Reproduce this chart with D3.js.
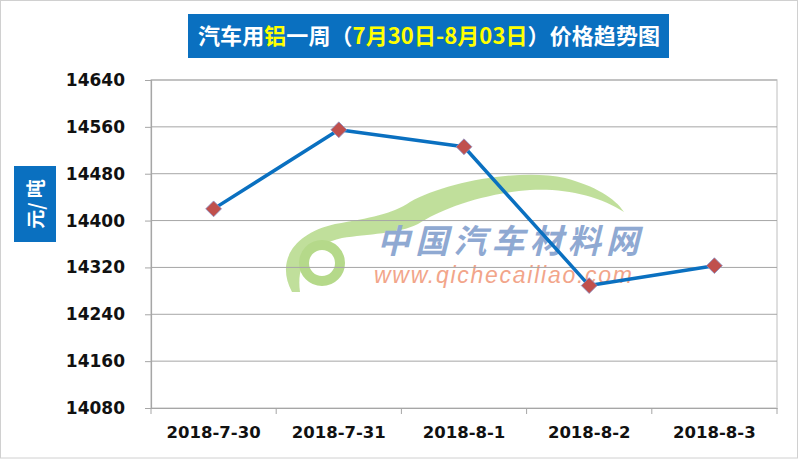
<!DOCTYPE html>
<html>
<head>
<meta charset="utf-8">
<script src="https://cdn.jsdelivr.net/npm/d3@7/dist/d3.min.js"></script>
<style>
  body { margin: 0; background: #fff; }
  svg { display: block; }
</style>
</head>
<body>
<div id="chart"></div>
<script>
const categories = ["2018-7-30", "2018-7-31", "2018-8-1", "2018-8-2", "2018-8-3"];
const prices = [14420, 14555, 14526, 14289, 14323];
const yTicks = [14080, 14160, 14240, 14320, 14400, 14480, 14560, 14640];

const width = 800, height = 460;
const margin = {left: 151, right: 23, top: 80, bottom: 52};

let svg = d3.select("#chart").append("svg")
    .attr("width", width)
    .attr("height", height);

// outer frame
svg.append("rect")
    .attr("x", 0.5).attr("y", 0.5)
    .attr("width", width - 3).attr("height", height - 2.5)
    .attr("fill", "#fff")
    .attr("stroke", "#d0d0d0");

let x = d3.scaleBand()
    .domain(categories)
    .range([margin.left, width - margin.right]);

let y = d3.scaleLinear()
    .domain([14080, 14640])
    .range([height - margin.bottom, margin.top]);

// watermark
let wm = svg.append("g").attr("class", "watermark");
wm.append("path")
    .attr("d", "M292,292 C276,262 292,234 335,224 C370,218 392,214 410,202 C445,182 520,168 565,178 C595,186 615,198 624,212 C600,196 565,188 530,190 C480,194 440,210 418,224 C398,234 368,234 342,238 C310,246 296,262 300,292 Z")
    .attr("fill", "#b5d98a")
    .attr("opacity", 0.85);
wm.append("circle")
    .attr("cx", 322).attr("cy", 263)
    .attr("r", 18)
    .attr("fill", "none")
    .attr("stroke", "#b5d98a")
    .attr("stroke-width", 10);
wm.append("text")
    .attr("x", 508).attr("y", 253)
    .attr("text-anchor", "middle")
    .attr("font-family", "Noto Sans CJK SC")
    .attr("font-weight", "bold")
    .attr("font-style", "italic")
    .attr("font-size", 33)
    .attr("textLength", 262)
    .attr("fill", "#8fa9d2")
    .text("中国汽车材料网");
wm.append("text")
    .attr("x", 503).attr("y", 283)
    .attr("text-anchor", "middle")
    .attr("font-family", "Liberation Sans, Arial, sans-serif")
    .attr("font-style", "italic")
    .attr("font-size", 23)
    .attr("textLength", 258)
    .attr("fill", "#f2a58a")
    .text("www.qichecailiao.com");

// plot border (top/right)
svg.append("rect")
    .attr("x", margin.left).attr("y", margin.top)
    .attr("width", width - margin.right - margin.left)
    .attr("height", height - margin.bottom - margin.top)
    .attr("fill", "none")
    .attr("stroke", "#d4d4d4")
    .attr("stroke-width", 1.5);

// gridlines
svg.append("g")
    .selectAll("line")
    .data(yTicks.slice(1))
    .enter().append("line")
    .attr("x1", margin.left).attr("x2", width - margin.right)
    .attr("y1", d => y(d)).attr("y2", d => y(d))
    .attr("stroke", "#a6a6a6")
    .attr("stroke-width", 1);

// y axis
let yAxis = svg.append("g")
    .attr("transform", "translate(" + margin.left + ",0)")
    .call(d3.axisLeft(y).tickValues(yTicks).tickSize(6).tickPadding(20).tickFormat(d3.format("d")));
yAxis.select(".domain").attr("stroke", "#a6a6a6").attr("stroke-width", 1.2);
yAxis.selectAll(".tick line").attr("stroke", "#a6a6a6");
yAxis.selectAll("text")
    .attr("font-family", "DejaVu Sans, sans-serif")
    .attr("font-weight", "bold")
    .attr("font-size", 17)
    .attr("fill", "#111");

// x axis
let xAxis = svg.append("g")
    .attr("transform", "translate(0," + (height - margin.bottom) + ")")
    .call(d3.axisBottom(x).tickSize(0).tickPadding(18));
xAxis.select(".domain").attr("stroke", "#a6a6a6").attr("stroke-width", 1.2);
xAxis.selectAll("text")
    .attr("font-family", "DejaVu Sans, sans-serif")
    .attr("font-weight", "bold")
    .attr("font-size", 16.5)
    .attr("fill", "#111");
// boundary ticks between categories
xAxis.selectAll(".sep")
    .data(categories.concat(["end"]))
    .enter().append("line")
    .attr("class", "sep")
    .attr("x1", (d, i) => margin.left + i * x.step())
    .attr("x2", (d, i) => margin.left + i * x.step())
    .attr("y1", 0).attr("y2", 6)
    .attr("stroke", "#a6a6a6");

// line
let line = d3.line()
    .x((d, i) => x(categories[i]) + x.bandwidth() / 2)
    .y(d => y(d));

svg.append("path")
    .datum(prices)
    .attr("d", line)
    .attr("fill", "none")
    .attr("stroke", "#0a70c0")
    .attr("stroke-width", 3.5)
    .attr("stroke-linejoin", "round");

// diamond markers
svg.append("g")
    .selectAll("path")
    .data(prices)
    .enter().append("path")
    .attr("transform", (d, i) => "translate(" + (x(categories[i]) + x.bandwidth() / 2) + "," + y(d) + ")")
    .attr("d", d3.symbol().type(d3.symbolDiamond2).size(160))
    .attr("fill", "#c0504d")
    .attr("stroke", "#8a93c8")
    .attr("stroke-width", 0.8);

// title box
let title = svg.append("g");
title.append("rect")
    .attr("x", 188).attr("y", 14)
    .attr("width", 481).attr("height", 44)
    .attr("fill", "#0a70c0");
let tt = title.append("text")
    .attr("x", 429).attr("y", 44)
    .attr("text-anchor", "middle")
    .attr("font-family", "Noto Sans CJK SC, sans-serif")
    .attr("font-weight", "bold")
    .attr("font-size", 22)
    .attr("textLength", 462)
    .attr("fill", "#fff");
tt.append("tspan").text("汽车用");
tt.append("tspan").attr("fill", "#ffff00").text("铝");
tt.append("tspan").text("一周（");
tt.append("tspan").attr("fill", "#ffff00").text("7月30日-8月03日");
tt.append("tspan").text("）价格趋势图");

// y label box
svg.append("rect")
    .attr("x", 14).attr("y", 166)
    .attr("width", 42).attr("height", 76)
    .attr("fill", "#0a70c0");
svg.append("text")
    .attr("transform", "translate(36,204) rotate(-90)")
    .attr("text-anchor", "middle")
    .attr("dy", "0.35em")
    .attr("font-family", "Noto Sans CJK SC, sans-serif")
    .attr("font-weight", "bold")
    .attr("font-size", 19)
    .attr("fill", "#fff")
    .text("元/ 吨");
</script>
</body>
</html>
